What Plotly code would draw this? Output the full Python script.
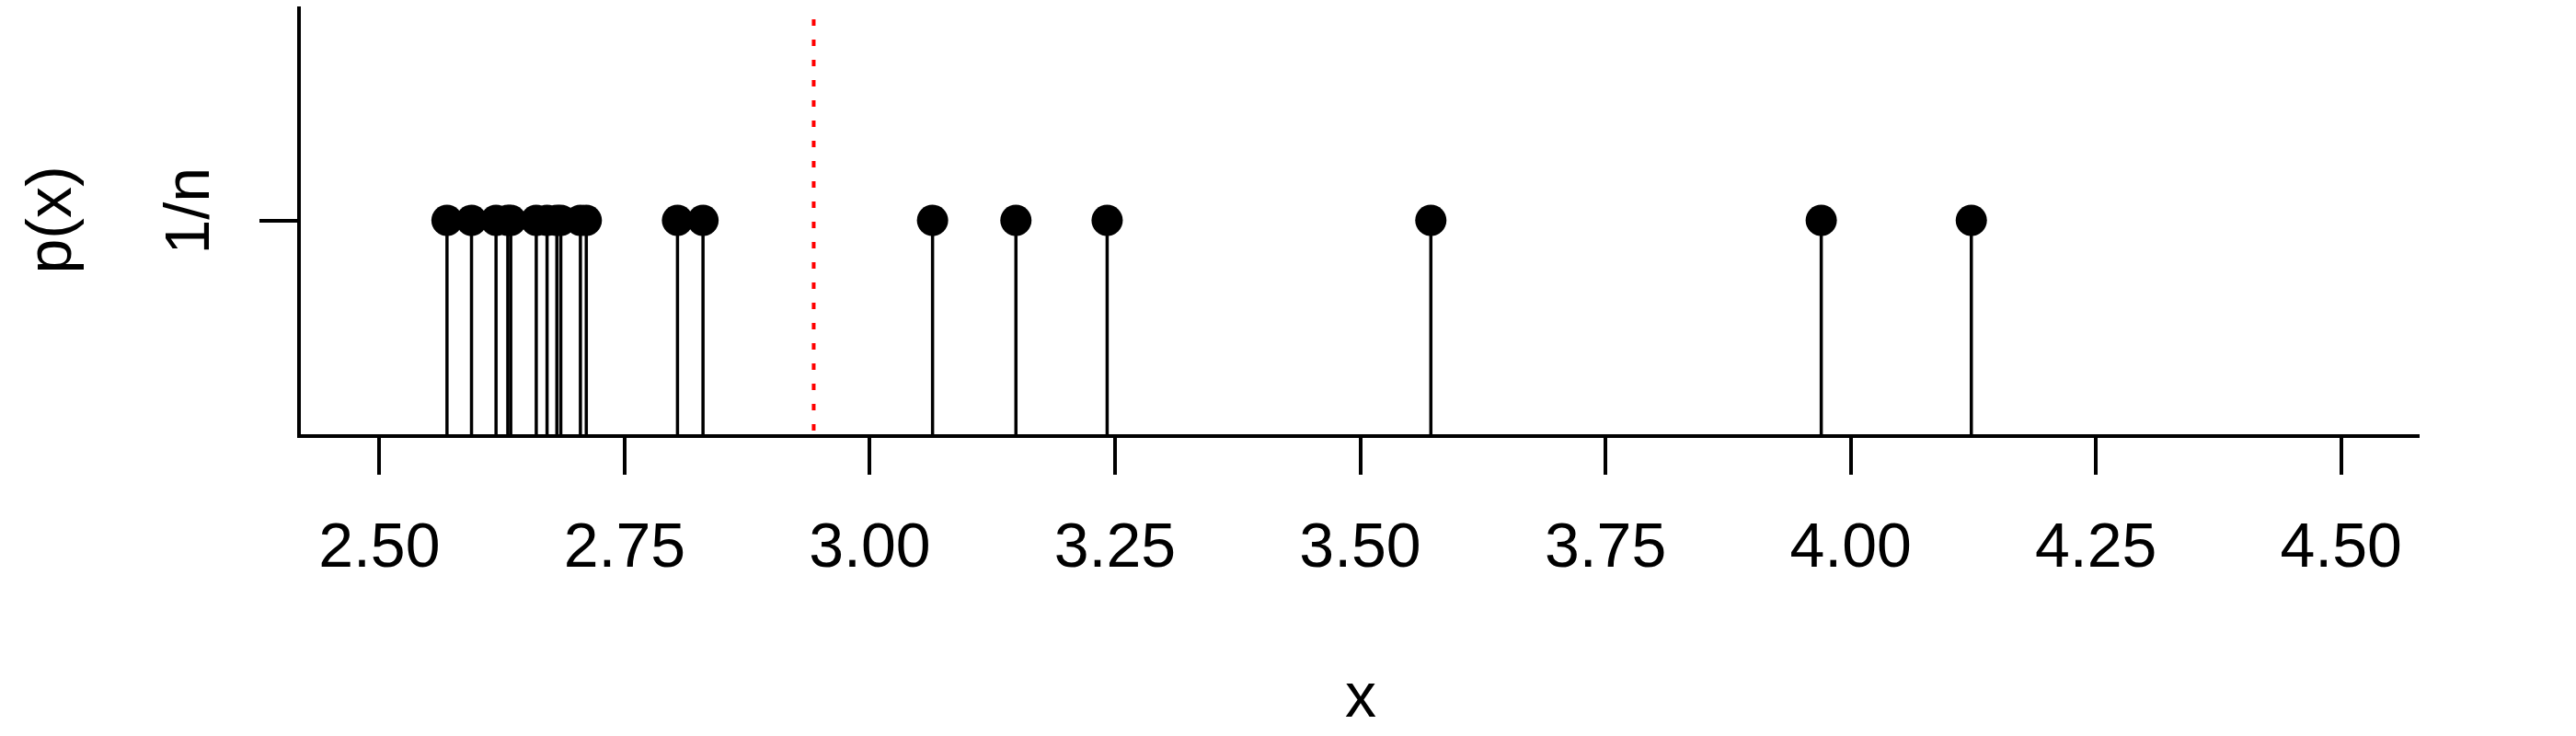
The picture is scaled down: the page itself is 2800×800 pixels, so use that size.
import numpy as np
import plotly.graph_objects as go

# sample values, each with mass 1/n
x_values = [2.569, 2.594, 2.619, 2.631, 2.634, 2.660, 2.671, 2.681, 2.685, 2.705,
            2.711, 2.804, 2.830, 3.064, 3.149, 3.242, 3.572, 3.970, 4.123]
n = len(x_values)
p_values = [1 / n] * n
x_ticks = [2.50, 2.75, 3.00, 3.25, 3.50, 3.75, 4.00, 4.25, 4.50]
mean_line_top = 1.94 / n

FONT = "Liberation Sans, Arial, sans-serif"
FS = 68

stem_x, stem_y = [], []
for xv, pv in zip(x_values, p_values):
    stem_x += [xv, xv, None]
    stem_y += [0, pv, None]

mean_x = float(np.mean(x_values))

fig = go.Figure()
fig.add_trace(go.Scatter(x=stem_x, y=stem_y, mode="lines",
                         line=dict(color="black", width=3.5), hoverinfo="skip"))
# dotted mean line, drawn top-down so the dash pattern starts at the top
fig.add_trace(go.Scatter(x=[mean_x, mean_x], y=[mean_line_top, 0], mode="lines",
                         line=dict(color="#ff0000", width=4, dash="7px,15px")))
fig.add_trace(go.Scatter(x=x_values, y=p_values, mode="markers",
                         marker=dict(color="black", size=34, line=dict(width=0))))

fig.update_layout(
    width=2800, height=800,
    margin=dict(l=327, r=170, t=7, b=328),
    plot_bgcolor="white", paper_bgcolor="white",
    showlegend=False,
    font=dict(family=FONT, size=FS, color="black"),
)
fig.update_xaxes(
    range=[2.42, 4.58], showgrid=False, zeroline=False,
    showline=True, linecolor="black", linewidth=4,
    tickmode="array", tickvals=x_ticks, ticktext=[f"{t:.2f}" for t in x_ticks],
    ticks="outside", ticklen=40, tickwidth=3.5, tickcolor="black",
    ticklabelstandoff=18,
    tickfont=dict(family=FONT, size=FS, color="black"),
)
fig.update_yaxes(
    range=[0, 2 / n], showgrid=False, zeroline=False,
    showline=True, linecolor="black", linewidth=4,
    tickmode="array", tickvals=[1 / n], ticktext=["1/n"], tickangle=-90,
    ticks="outside", ticklen=41, tickwidth=3.5, tickcolor="black",
    ticklabelstandoff=28,
    tickfont=dict(family=FONT, size=FS, color="black"),
)

fig.add_annotation(text="x", xref="paper", yref="paper", x=0.5, y=(472 - 755) / 465,
                   showarrow=False, font=dict(family=FONT, size=FS, color="black"),
                   xanchor="center", yanchor="middle")
fig.add_annotation(text="p(x)", xref="paper", yref="paper", x=(52 - 327) / 2303, y=0.5,
                   showarrow=False, textangle=-90,
                   font=dict(family=FONT, size=FS, color="black"),
                   xanchor="center", yanchor="middle")

fig.write_html("out.html", config={"displayModeBar": False},
               post_script="document.body.style.margin = '0';")
